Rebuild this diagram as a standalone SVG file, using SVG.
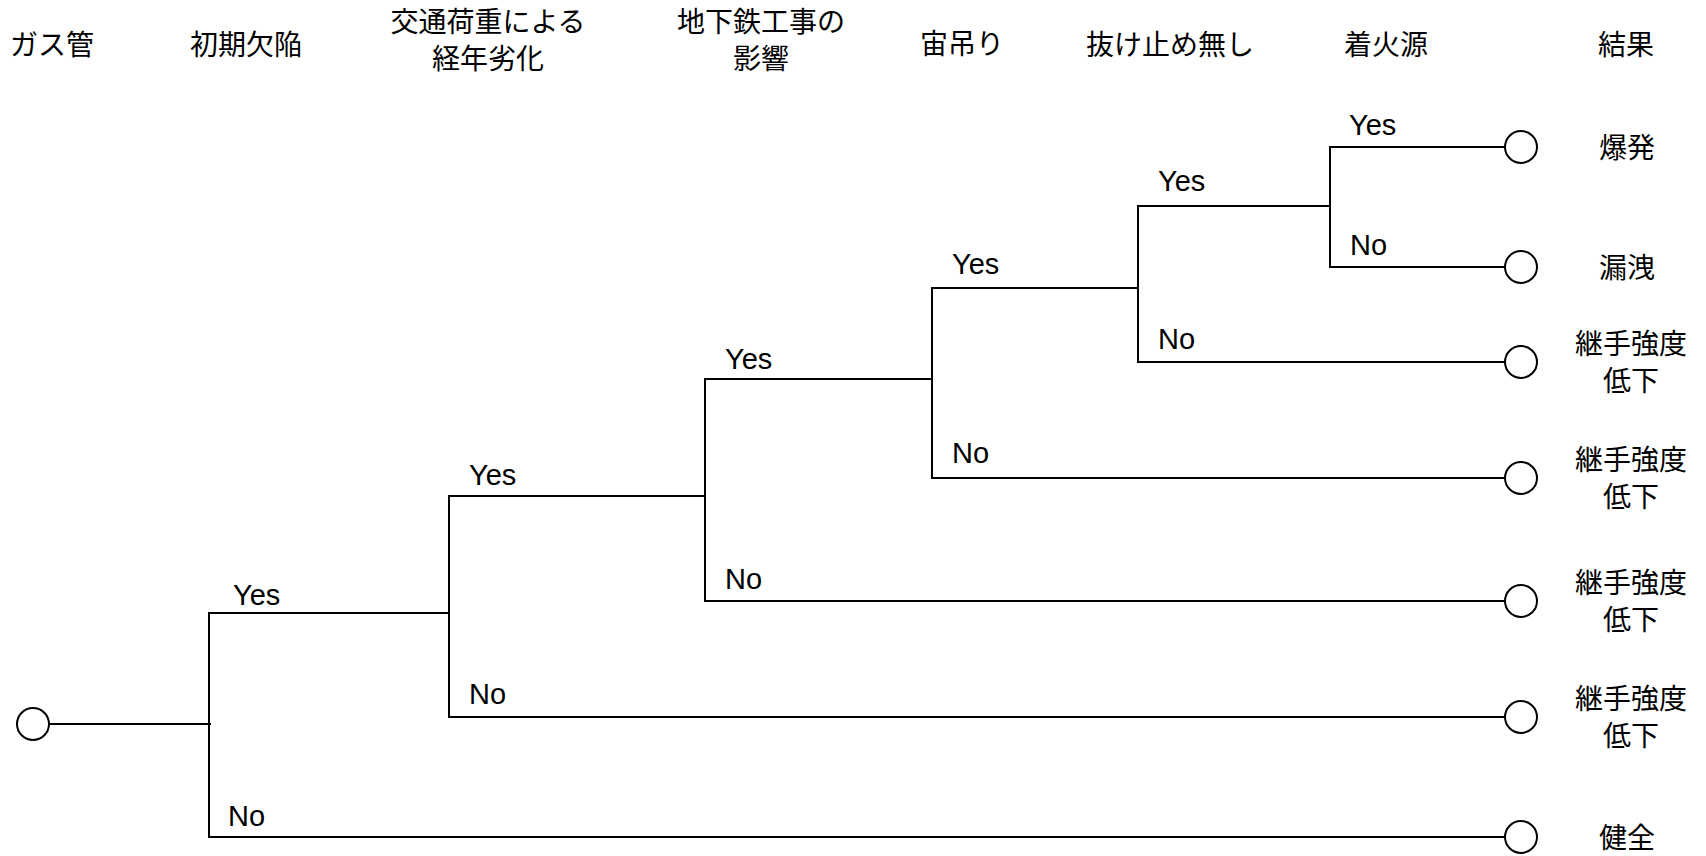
<svg xmlns="http://www.w3.org/2000/svg" width="1706" height="856" viewBox="0 0 1706 856">
<style>
.hdr{font-family:"Noto Sans CJK JP","Noto Sans",sans-serif;font-size:28px;fill:#000;text-anchor:middle}
.res{font-family:"Noto Sans CJK JP","Noto Sans",sans-serif;font-size:28px;fill:#000;text-anchor:middle}
.lbl{font-family:"Liberation Sans",Arial,sans-serif;font-size:29px;fill:#000}
.ln{fill:none;stroke:#000;stroke-width:2;stroke-linecap:square}
.nd{fill:#fff;stroke:#000;stroke-width:2}
</style>
<rect width="1706" height="856" fill="#fff"/>
<g id="headers">
<text class="hdr" x="52" y="55">ガス管</text>
<text class="hdr" x="246" y="55">初期欠陥</text>
<text class="hdr" x="488" y="32">交通荷重による</text>
<text class="hdr" x="488" y="69">経年劣化</text>
<text class="hdr" x="761" y="32">地下鉄工事の</text>
<text class="hdr" x="761" y="69">影響</text>
<text class="hdr" x="962" y="54">宙吊り</text>
<text class="hdr" x="1170" y="55">抜け止め無し</text>
<text class="hdr" x="1386" y="55">着火源</text>
<text class="hdr" x="1626" y="55">結果</text>
</g>
<g id="connectors">
<path class="ln" d="M49,724 H210"/>
<path class="ln" d="M209,613 V837"/>
<path class="ln" d="M209,613 H449"/>
<path class="ln" d="M209,837 H1505"/>
<path class="ln" d="M449,496 V717"/>
<path class="ln" d="M449,496 H705"/>
<path class="ln" d="M449,717 H1505"/>
<path class="ln" d="M705,379 V601"/>
<path class="ln" d="M705,379 H932"/>
<path class="ln" d="M705,601 H1505"/>
<path class="ln" d="M932,288 V478"/>
<path class="ln" d="M932,288 H1138"/>
<path class="ln" d="M932,478 H1505"/>
<path class="ln" d="M1138,206 V362"/>
<path class="ln" d="M1138,206 H1330"/>
<path class="ln" d="M1138,362 H1505"/>
<path class="ln" d="M1330,147 V267"/>
<path class="ln" d="M1330,147 H1505"/>
<path class="ln" d="M1330,267 H1505"/>
</g>
<g id="branch-labels">
<text class="lbl" x="233" y="605">Yes</text>
<text class="lbl" x="228" y="826">No</text>
<text class="lbl" x="469" y="485">Yes</text>
<text class="lbl" x="469" y="704">No</text>
<text class="lbl" x="725" y="369">Yes</text>
<text class="lbl" x="725" y="589">No</text>
<text class="lbl" x="952" y="274">Yes</text>
<text class="lbl" x="952" y="463">No</text>
<text class="lbl" x="1158" y="191">Yes</text>
<text class="lbl" x="1158" y="349">No</text>
<text class="lbl" x="1349" y="135">Yes</text>
<text class="lbl" x="1350" y="255">No</text>
</g>
<g id="start"><circle class="nd" cx="33" cy="724" r="16"/></g>
<g id="end-explosion"><circle class="nd" cx="1521" cy="147" r="16"/><text class="res" x="1627" y="158">爆発</text></g>
<g id="end-leak"><circle class="nd" cx="1521" cy="267" r="16"/><text class="res" x="1627" y="278">漏洩</text></g>
<g id="end-joint1"><circle class="nd" cx="1521" cy="362" r="16"/><text class="res" x="1631" y="354">継手強度</text><text class="res" x="1631" y="391">低下</text></g>
<g id="end-joint2"><circle class="nd" cx="1521" cy="478" r="16"/><text class="res" x="1631" y="470">継手強度</text><text class="res" x="1631" y="507">低下</text></g>
<g id="end-joint3"><circle class="nd" cx="1521" cy="601" r="16"/><text class="res" x="1631" y="593">継手強度</text><text class="res" x="1631" y="630">低下</text></g>
<g id="end-joint4"><circle class="nd" cx="1521" cy="717" r="16"/><text class="res" x="1631" y="709">継手強度</text><text class="res" x="1631" y="746">低下</text></g>
<g id="end-sound"><circle class="nd" cx="1521" cy="837" r="16"/><text class="res" x="1627" y="848">健全</text></g>
</svg>
